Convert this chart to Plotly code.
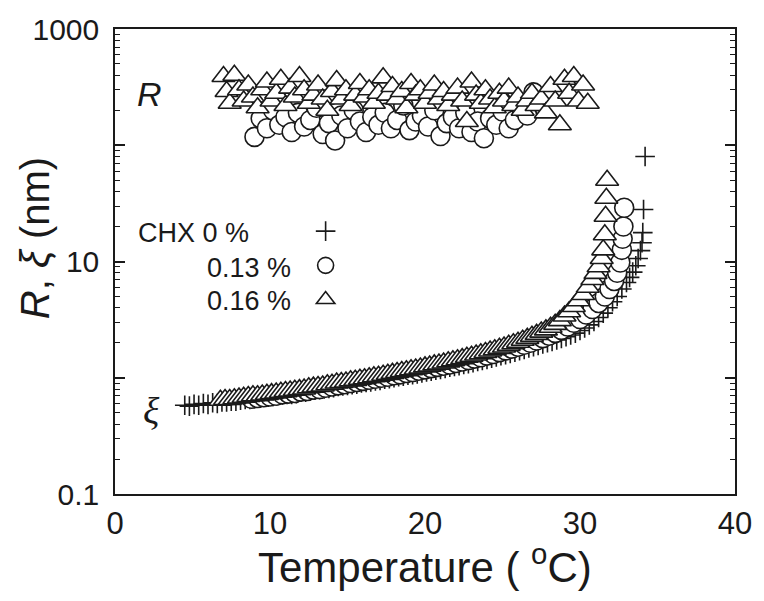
import plotly.graph_objects as go

# ---------------- data ----------------
# CHX 0 % : correlation length xi (nm)
t_xi_0 = [4.5, 4.8, 5.1, 5.4, 5.7, 6.0, 6.3, 6.6, 6.9, 7.2, 7.5, 7.8, 8.1, 8.4, 8.7, 9.0, 9.3, 9.6, 9.9,
          10.2, 10.5, 10.8, 11.1, 11.4, 11.7, 12.0, 12.3, 12.6, 12.9, 13.2, 13.5, 13.8, 14.1, 14.4, 14.7,
          15.0, 15.3, 15.6, 15.9, 16.2, 16.5, 16.8, 17.1, 17.4, 17.7, 18.0, 18.3, 18.6, 18.9, 19.2, 19.5,
          19.8, 20.1, 20.4, 20.7, 21.0, 21.3, 21.6, 21.9, 22.2, 22.5, 22.8, 23.1, 23.4, 23.7, 24.0, 24.3,
          24.6, 24.9, 25.2, 25.5, 25.8, 26.1, 26.4, 26.7, 27.0, 27.3, 27.6, 27.9, 28.2, 28.5, 28.8, 29.1,
          29.4, 29.7, 30.0, 30.3, 30.6, 30.9, 31.2, 31.5, 31.8, 32.1, 32.4, 32.7, 33.0, 33.2, 33.4, 33.6,
          33.75, 33.9, 34.0, 34.05, 34.1, 34.2]
xi_0 = [0.58, 0.57, 0.59, 0.58, 0.60, 0.59, 0.61, 0.60, 0.62, 0.62, 0.63, 0.63, 0.64, 0.65, 0.65, 0.66,
        0.67, 0.68, 0.68, 0.69, 0.70, 0.71, 0.72, 0.72, 0.73, 0.75, 0.75, 0.77, 0.78, 0.79, 0.80, 0.81,
        0.82, 0.84, 0.85, 0.86, 0.87, 0.88, 0.90, 0.91, 0.92, 0.94, 0.95, 0.97, 0.98, 1.00, 1.02, 1.03,
        1.05, 1.06, 1.08, 1.10, 1.12, 1.14, 1.16, 1.18, 1.20, 1.23, 1.25, 1.27, 1.30, 1.32, 1.35, 1.38,
        1.41, 1.44, 1.47, 1.51, 1.55, 1.58, 1.62, 1.66, 1.71, 1.75, 1.80, 1.85, 1.90, 1.95, 2.00, 2.05,
        2.11, 2.18, 2.25, 2.33, 2.42, 2.55, 2.68, 2.85, 3.05, 3.3, 3.6, 4.0, 4.5, 5.0, 5.8, 6.6, 7.3,
        8.1, 9.2, 10.6, 12.4, 14.5, 17.7, 28.0, 80.0]

# CHX 0.13 % : xi (nm)
t_xi_13 = [8.8, 9.2, 9.6, 10.0, 10.4, 10.8, 11.2, 11.6, 12.0, 12.4, 12.8, 13.2, 13.6, 14.0, 14.4, 14.8,
           15.2, 15.6, 16.0, 16.4, 16.8, 17.2, 17.6, 18.0, 18.4, 18.8, 19.2, 19.6, 20.0, 20.4, 20.8, 21.2,
           21.6, 22.0, 22.4, 22.8, 23.2, 23.6, 24.0, 24.4, 24.8, 25.2, 25.6, 26.0, 26.4, 26.8, 27.2, 27.6,
           28.0, 28.4, 28.8, 29.2, 29.6, 30.0, 30.4, 30.8, 31.2, 31.6, 31.9, 32.2, 32.4, 32.6, 32.7, 32.75,
           32.8, 32.85]
xi_13 = [0.66, 0.67, 0.68, 0.69, 0.70, 0.72, 0.73, 0.74, 0.76, 0.77, 0.79, 0.80, 0.82, 0.84, 0.86, 0.88,
         0.90, 0.92, 0.94, 0.96, 0.98, 1.00, 1.02, 1.05, 1.07, 1.10, 1.12, 1.15, 1.18, 1.21, 1.24, 1.27,
         1.30, 1.34, 1.38, 1.42, 1.46, 1.50, 1.55, 1.60, 1.66, 1.72, 1.78, 1.85, 1.92, 2.00, 2.09, 2.19,
         2.30, 2.43, 2.58, 2.76, 2.97, 3.2, 3.5, 3.9, 4.4, 5.0, 5.8, 6.8, 8.0, 9.8, 12.6, 15.7, 20.0, 29.0]

# CHX 0.16 % : xi (nm)
t_xi_16 = [6.8, 7.1, 7.4, 7.7, 8.0, 8.3, 8.6, 8.9, 9.2, 9.5, 9.8, 10.1, 10.4, 10.7, 11.0, 11.3, 11.6,
           11.9, 12.2, 12.5, 12.8, 13.1, 13.4, 13.7, 14.0, 14.3, 14.6, 14.9, 15.2, 15.5, 15.8, 16.1, 16.4,
           16.7, 17.0, 17.3, 17.6, 17.9, 18.2, 18.5, 18.8, 19.1, 19.4, 19.7, 20.0, 20.3, 20.6, 20.9, 21.2,
           21.5, 21.8, 22.1, 22.4, 22.7, 23.0, 23.3, 23.6, 23.9, 24.2, 24.5, 24.8, 25.1, 25.4, 25.7, 26.0,
           26.3, 26.6, 26.9, 27.2, 27.5, 27.8, 28.1, 28.4, 28.7, 29.0, 29.3, 29.6, 29.9, 30.2, 30.5, 30.8,
           31.0, 31.2, 31.4, 31.5, 31.6, 31.65, 31.7, 31.75]
xi_16 = [0.64, 0.65, 0.65, 0.66, 0.67, 0.68, 0.69, 0.70, 0.70, 0.71, 0.72, 0.73, 0.74, 0.75, 0.76, 0.77,
         0.78, 0.79, 0.80, 0.82, 0.83, 0.84, 0.85, 0.87, 0.88, 0.90, 0.91, 0.92, 0.94, 0.95, 0.97, 0.98,
         1.00, 1.02, 1.03, 1.05, 1.07, 1.09, 1.11, 1.13, 1.15, 1.17, 1.19, 1.21, 1.24, 1.26, 1.29, 1.31,
         1.34, 1.37, 1.40, 1.43, 1.46, 1.50, 1.53, 1.57, 1.61, 1.65, 1.70, 1.74, 1.79, 1.84, 1.90, 1.96,
         2.02, 2.10, 2.18, 2.27, 2.36, 2.47, 2.58, 2.72, 2.88, 3.1, 3.4, 3.7, 4.1, 4.6, 5.2, 6.0, 7.0,
         7.9, 9.0, 10.6, 12.6, 17.0, 24.5, 35.0, 50.0]

# CHX 0.13 % : micelle radius R (nm)
t_r_13 = [9.0, 9.4, 9.8, 10.2, 10.6, 11.0, 11.4, 11.8, 12.2, 12.6, 13.0, 13.4, 13.8, 14.2, 14.6, 15.0,
          15.4, 15.8, 16.2, 16.6, 17.0, 17.4, 17.8, 18.2, 18.6, 19.0, 19.4, 19.8, 20.2, 20.6, 21.0, 21.4,
          21.8, 22.2, 22.6, 23.0, 23.4, 23.8, 24.2, 24.6, 25.0, 25.4, 25.8, 26.2, 26.6, 27.0, 27.2]
r_13 = [118, 170, 140, 200, 150, 175, 130, 190, 145, 165, 210, 125, 155, 110, 180, 140, 200, 160, 130,
        175, 150, 190, 140, 165, 220, 135, 160, 180, 145, 200, 120, 155, 175, 140, 190, 130, 160, 115,
        170, 150, 195, 140, 165, 210, 180, 285, 240]

# CHX 0.16 % : micelle radius R (nm)
t_r_16 = [7.0, 7.2, 7.4, 7.7, 8.0, 8.3, 8.6, 8.9, 9.2, 9.5, 9.8, 10.1, 10.4, 10.7, 11.0, 11.3, 11.6,
          11.9, 12.2, 12.5, 12.8, 13.1, 13.4, 13.7, 14.0, 14.3, 14.6, 14.9, 15.2, 15.5, 15.8, 16.1, 16.4,
          16.7, 17.0, 17.3, 17.6, 17.9, 18.2, 18.5, 18.8, 19.1, 19.4, 19.7, 20.0, 20.3, 20.6, 20.9, 21.2,
          21.5, 21.8, 22.1, 22.4, 22.7, 23.0, 23.3, 23.6, 23.9, 24.2, 24.5, 24.8, 25.1, 25.4, 25.7, 26.0,
          26.3, 26.6, 26.9, 27.2, 27.5, 27.8, 28.1, 28.4, 28.7, 29.0, 29.3, 29.6, 29.9, 30.2, 30.5]
r_16 = [390, 290, 230, 400, 300, 240, 330, 260, 210, 300, 350, 240, 280, 370, 220, 310, 260, 390, 300,
        230, 270, 330, 250, 200, 290, 360, 250, 300, 220, 270, 340, 260, 300, 230, 280, 380, 270, 320,
        250, 290, 210, 340, 270, 300, 230, 280, 330, 250, 290, 220, 270, 310, 240, 160, 350, 270, 230,
        300, 250, 210, 280, 240, 310, 220, 260, 200, 240, 280, 220, 250, 190, 320, 240, 150, 370, 280,
        390, 240, 330, 230]

legend_names = ["CHX 0 %", "0.13 %", "0.16 %"]
x_ticks = [0, 10, 20, 30, 40]
y_major = [0.1, 1, 10, 100, 1000]
y_major_text = ["0.1", "", "10", "", "1000"]
y_minor = [m * d for d in (0.1, 1, 10, 100) for m in range(2, 10)]

# ---------------- styles ----------------
FONT = "Liberation Sans, Arial, sans-serif"
INK = "#1a1a1a"
cross = dict(symbol="cross-thin", size=14, color=INK, line=dict(color=INK, width=1.6))
circ = dict(symbol="circle", size=19, color="white", line=dict(color=INK, width=1.6))
tri = dict(symbol="triangle-up", size=20, color="white", line=dict(color=INK, width=1.6))

fig = go.Figure()
fig.add_trace(go.Scatter(x=t_xi_0, y=xi_0, mode="markers", marker=cross, name=" ",
                         showlegend=True))
fig.add_trace(go.Scatter(x=t_r_13, y=r_13, mode="markers", marker=circ, showlegend=False))
fig.add_trace(go.Scatter(x=t_xi_13, y=xi_13, mode="markers", marker=circ, name=" ",
                         showlegend=True))
fig.add_trace(go.Scatter(x=t_r_16, y=r_16, mode="markers", marker=tri, showlegend=False))
fig.add_trace(go.Scatter(x=t_xi_16, y=xi_16, mode="markers", marker=tri, name=" ",
                         showlegend=True))

W, H = 764, 601
L, R_, T, B = 115, 18, 24, 107
pw, ph = W - L - R_, H - T - B


def px(xp):
    return (xp - L) / pw


def py(yp):
    return (H - B - yp) / ph


ann = []
# legend texts
ann.append(dict(text=legend_names[0], x=px(136), y=py(230), xanchor="left", yanchor="middle"))
ann.append(dict(text=legend_names[1], x=px(207), y=py(266), xanchor="left", yanchor="middle"))
ann.append(dict(text=legend_names[2], x=px(207), y=py(299), xanchor="left", yanchor="middle"))
for a in ann:
    a.update(xref="paper", yref="paper", showarrow=False, font=dict(family=FONT, size=27, color=INK))

ann.append(dict(text="<i>R</i>", x=px(150), y=py(90), xref="paper", yref="paper", showarrow=False,
                xanchor="center", yanchor="middle", font=dict(family=FONT, size=34, color=INK)))
ann.append(dict(text="<i>ξ</i>", x=px(152), y=py(410), xref="paper", yref="paper", showarrow=False,
                xanchor="center", yanchor="middle",
                font=dict(family="Liberation Serif, serif", size=38, color=INK)))
# axis titles
ann.append(dict(text="Temperature ( <sup>o</sup>C)", x=px(431), y=py(565), xref="paper",
                yref="paper", showarrow=False, xanchor="center", yanchor="middle",
                font=dict(family=FONT, size=42, color=INK)))
ann.append(dict(text="<i>R</i>, <i>ξ</i> (nm)", x=px(33), y=py(235), xref="paper", yref="paper",
                showarrow=False, xanchor="center", yanchor="middle", textangle=-90,
                font=dict(family=FONT, size=40, color=INK)))

fig.update_layout(
    width=W, height=H,
    margin=dict(l=L, r=R_, t=T, b=B, pad=0),
    paper_bgcolor="white", plot_bgcolor="white",
    font=dict(family=FONT, color=INK),
    showlegend=True,
    legend=dict(x=px(309), y=py(206), xanchor="left", yanchor="top", font=dict(size=24),
                bgcolor="rgba(0,0,0,0)", borderwidth=0, itemsizing="trace"),
    annotations=ann,
    xaxis=dict(range=[0, 40], tickvals=x_ticks, ticks="", showline=True, linecolor=INK,
               linewidth=1.5, mirror=True, showgrid=False, zeroline=False,
               tickfont=dict(size=31, family=FONT, color=INK), ticklabelstandoff=1),
    yaxis=dict(type="log", range=[-1, 3], tickvals=y_major, ticktext=y_major_text,
               ticks="inside", ticklen=10, tickwidth=1.5, tickcolor=INK,
               showline=True, linecolor=INK, linewidth=1.5, mirror="ticks",
               showgrid=False, zeroline=False,
               tickfont=dict(size=30, family=FONT, color=INK), ticklabelstandoff=8,
               minor=dict(ticks="inside", ticklen=5, tickwidth=1.2, tickcolor=INK,
                          tickvals=y_minor, showgrid=False)),
)

fig.write_html("out.html")
